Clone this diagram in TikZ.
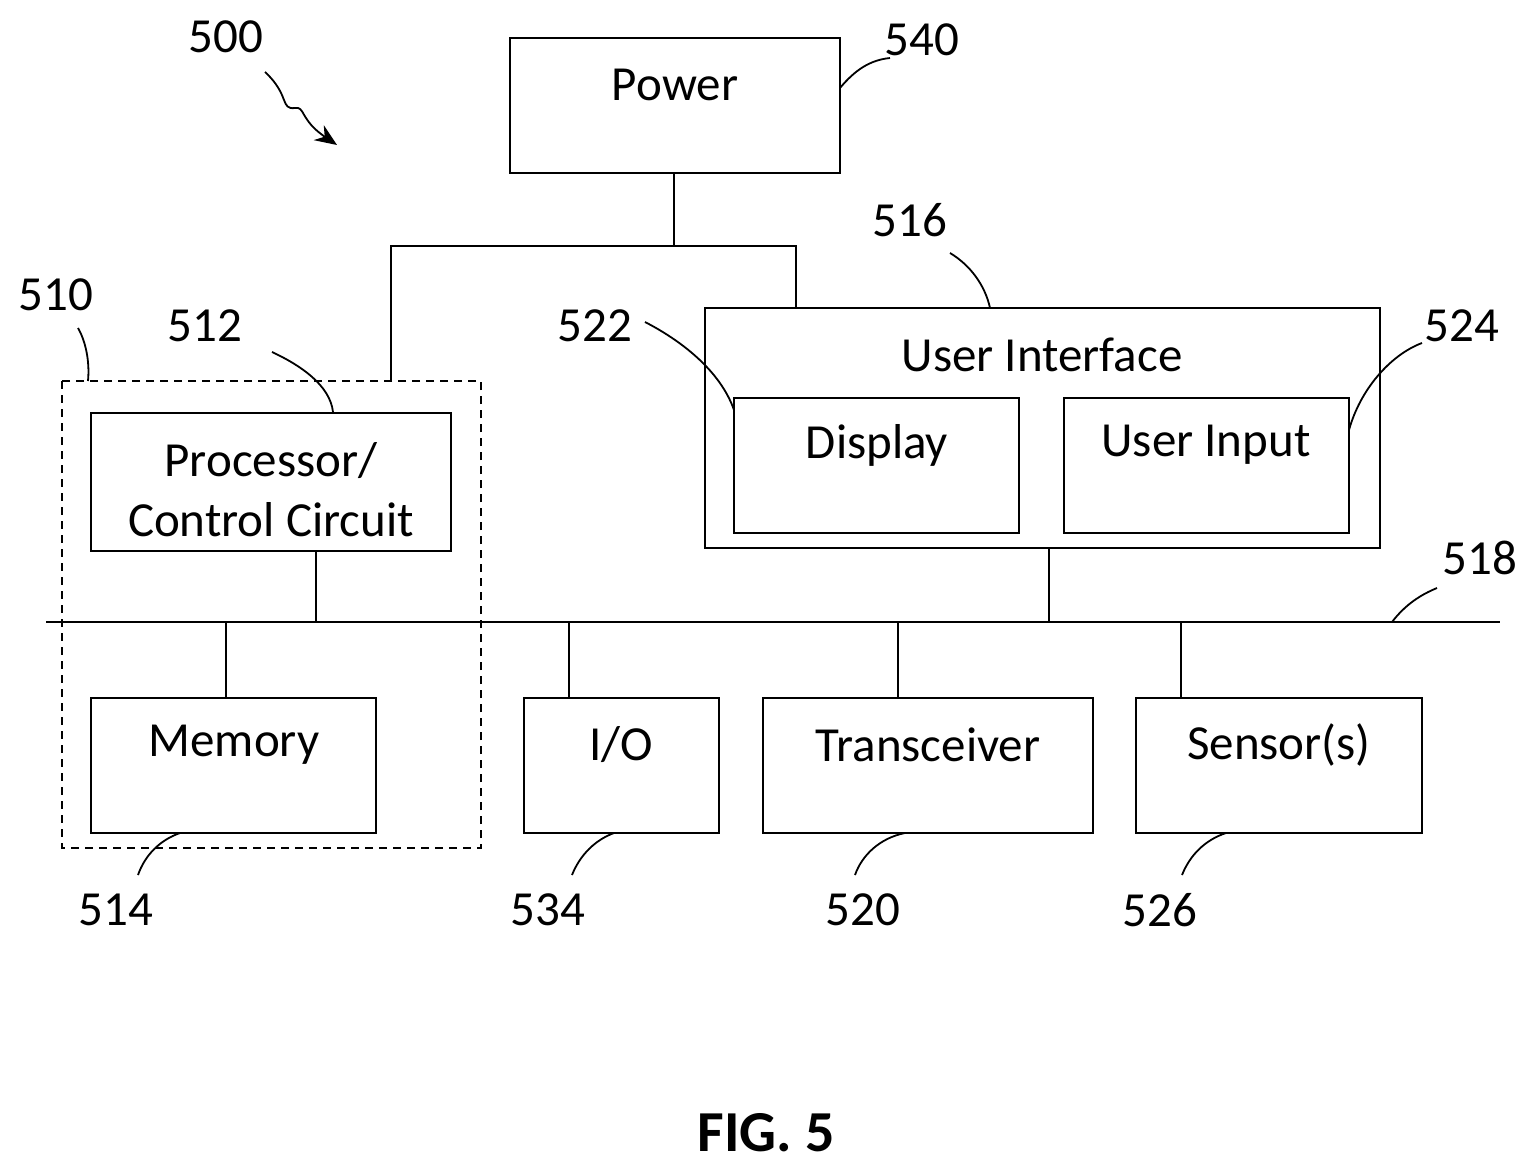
\documentclass[tikz,border=0pt]{standalone}
\usepackage{fontspec}
\setmainfont{Carlito}
\usetikzlibrary{decorations.pathmorphing,arrows.meta}
\begin{document}
\begin{tikzpicture}[x=1pt,y=-1pt,
  box/.style={draw,line width=2.2pt},
  lbl/.style={font=\fontsize{49}{54}\selectfont},
  txt/.style={font=\fontsize{49}{60}\selectfont,align=center},
  ln/.style={line width=2.2pt},
  lead/.style={line width=1.8pt}]
\useasboundingbox (0,0) rectangle (1538,1174);
% boxes
\draw[box] (510,38) rectangle (840,173); \node[txt] (pow) at (675,85) {Power};
\draw[box,dashed,line width=1.8pt,dash pattern=on 8pt off 6pt] (62,381) rectangle (481,848);
\draw[box] (91,413) rectangle (451,551); \node[txt] (proc) at (271,490) {Processor/\\Control Circuit};
\draw[box] (705,308) rectangle (1380,548); \node[txt] (ui) at (1042,355) {User Interface};
\draw[box] (734,398) rectangle (1019,533); \node[txt] (disp) at (877,445) {Display};
\draw[box] (1064,398) rectangle (1349,533); \node[txt] (uin) at (1206,445) {User Input};
\draw[box] (91,698) rectangle (376,833); \node[txt] (mem) at (234,745) {Memory};
\draw[box] (524,698) rectangle (719,833); \node[txt] (io) at (621,745) {I/O};
\draw[box] (763,698) rectangle (1093,833); \node[txt] (tr) at (928,745) {Transceiver};
\draw[box] (1136,698) rectangle (1422,833); \node[txt] (sen) at (1279,745) {Sensor(s)};
% connections
\draw[ln] (674,173) -- (674,246);
\draw[ln] (391,381) -- (391,246) -- (796,246) -- (796,308);
\draw[ln] (46,622) -- (1500,622);
\draw[ln] (316,551) -- (316,622);
\draw[ln] (1049,548) -- (1049,622);
\draw[ln] (226,622) -- (226,698);
\draw[ln] (569,622) -- (569,698);
\draw[ln] (898,622) -- (898,698);
\draw[ln] (1181,622) -- (1181,698);
% labels
\node[lbl] (l500) at (226,37) {500};
\draw[lead,-{Stealth[length=22pt,width=18pt]}] (265,72) .. controls (290,95) and (280,110) .. (295,108) .. controls (305,106) and (300,120) .. (337,145);
\node[lbl] (l540) at (922,40) {540};
\draw[lead] (840,88) .. controls (855,70) and (870,60) .. (890,58);
\node[lbl] (l516) at (910,220) {516};
\draw[lead] (990,308) .. controls (985,285) and (970,265) .. (950,253);
\node[lbl] (l510) at (56,295) {510};
\draw[lead] (88,381) .. controls (90,360) and (85,340) .. (78,328);
\node[lbl] (l512) at (205,326) {512};
\draw[lead] (333,412) .. controls (330,385) and (300,365) .. (272,352);
\node[lbl] (l522) at (595,326) {522};
\draw[lead] (734,410) .. controls (720,370) and (680,340) .. (645,322);
\node[lbl] (l524) at (1462,326) {524};
\draw[lead] (1349,430) .. controls (1360,390) and (1390,355) .. (1422,343);
\node[lbl] (l518) at (1480,558) {518};
\draw[lead] (1392,622) .. controls (1405,605) and (1420,595) .. (1437,588);
\node[lbl] (l514) at (116,910) {514};
\draw[lead] (180,833) .. controls (160,840) and (145,855) .. (138,875);
\node[lbl] (l534) at (548,910) {534};
\draw[lead] (614,833) .. controls (595,840) and (580,855) .. (572,875);
\node[lbl] (l520) at (863,910) {520};
\draw[lead] (905,833) .. controls (880,838) and (862,855) .. (855,875);
\node[lbl] (l526) at (1160,910) {526};
\draw[lead] (1226,833) .. controls (1205,840) and (1190,855) .. (1182,875);
\node[font=\fontsize{58}{62}\selectfont\bfseries] (fig) at (766,1133) {FIG. 5};
\end{tikzpicture}
\end{document}
